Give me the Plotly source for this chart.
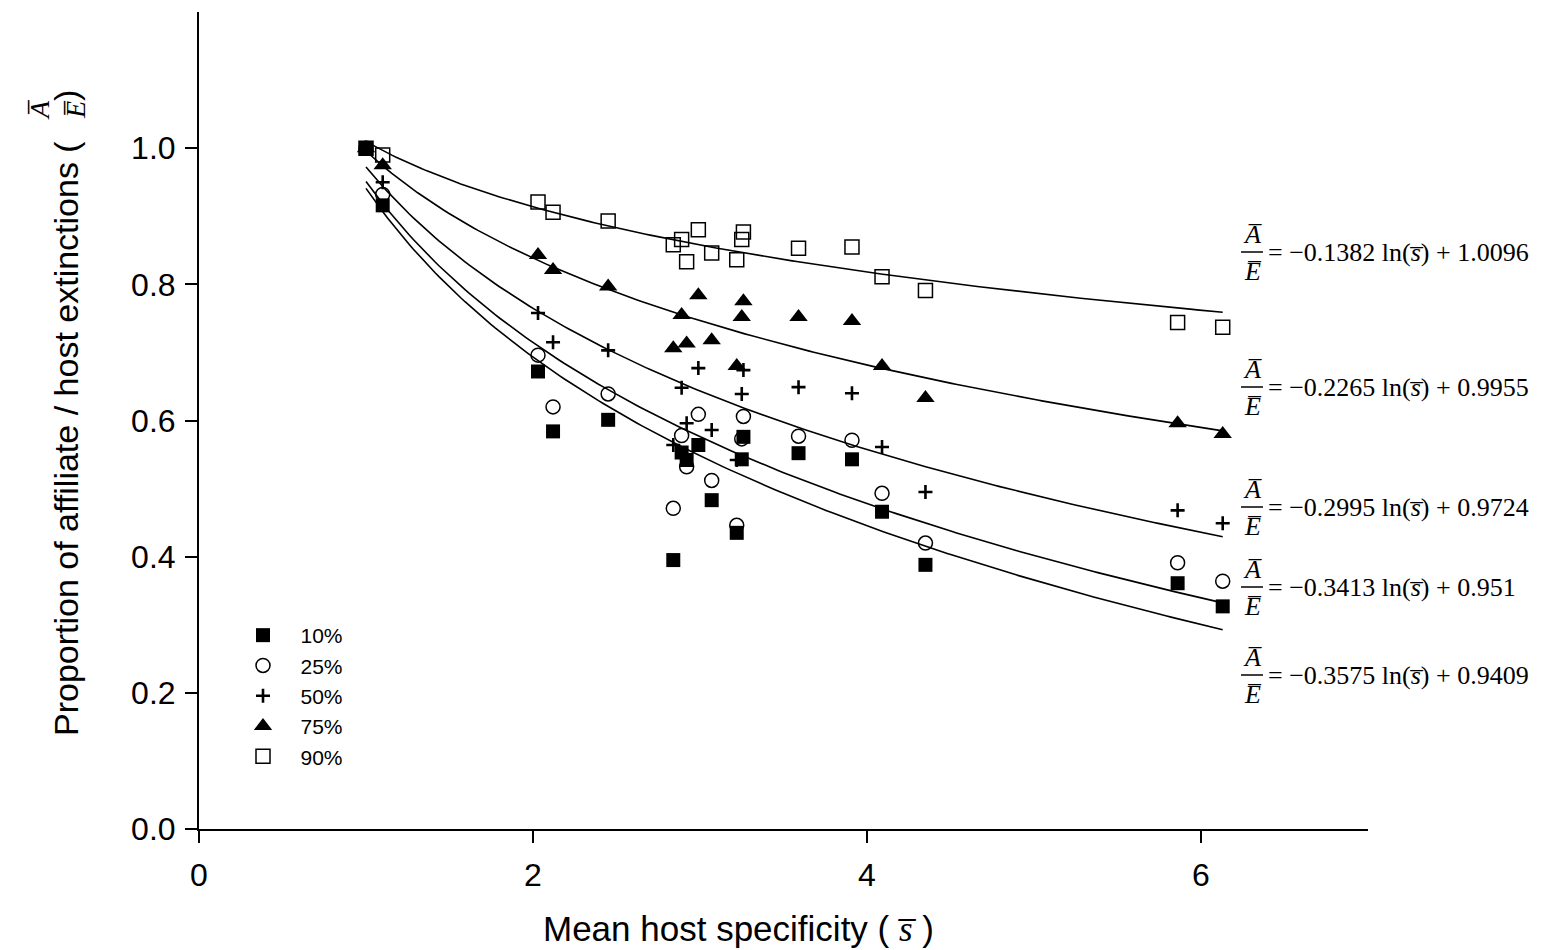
import numpy as np
import plotly.graph_objects as go

# ---------------- data ----------------
host_s = [1.00, 1.10, 2.03, 2.12, 2.45, 2.84, 2.89, 2.92, 2.99, 3.07, 3.22, 3.25, 3.26,
          3.59, 3.91, 4.09, 4.35, 5.86, 6.13]

p10 = [1.0, 0.916, 0.672, 0.584, 0.601, 0.395, 0.553, 0.542, 0.564, 0.483, 0.435, 0.543, 0.576,
       0.552, 0.543, 0.466, 0.388, 0.361, 0.327]
p25 = [1.0, 0.932, 0.696, 0.620, 0.639, 0.471, 0.578, 0.532, 0.609, 0.512, 0.446, 0.573, 0.606,
       0.577, 0.571, 0.493, 0.420, 0.391, 0.364]
p50 = [1.0, 0.950, 0.758, 0.715, 0.703, 0.564, 0.648, 0.596, 0.677, 0.586, 0.542, 0.639, 0.674,
       0.649, 0.640, 0.561, 0.495, 0.468, 0.449]
p75 = [1.0, 0.975, 0.843, 0.821, 0.797, 0.706, 0.755, 0.713, 0.784, 0.718, 0.680, 0.752, 0.775,
       0.752, 0.746, 0.680, 0.633, 0.596, 0.580]
p90 = [1.0, 0.990, 0.921, 0.906, 0.893, 0.858, 0.866, 0.833, 0.880, 0.846, 0.836, 0.866, 0.877,
       0.853, 0.855, 0.811, 0.791, 0.744, 0.737]

series_names = ["10%", "25%", "50%", "75%", "90%"]
fit_slope = [-0.3575, -0.3413, -0.2995, -0.2265, -0.1382]
fit_intercept = [0.9409, 0.951, 0.9724, 0.9955, 1.0096]

x_ticks = [0, 2, 4, 6]
y_ticks = [0.0, 0.2, 0.4, 0.6, 0.8, 1.0]

# ---------------- styling ----------------
W, H = 1568, 950
ML, MR, MT, MB = 199, 200, 12, 121
PW, PH = W - ML - MR, H - MT - MB

def px2paper_x(px):
    return (px - ML) / PW

def px2paper_y(py):
    return (H - MB - py) / PH

SANS = "Liberation Sans, Arial, sans-serif"
SERIF = "Liberation Serif, Times New Roman, serif"

marker_styles = [
    dict(symbol="square", size=14, color="black"),
    dict(symbol="circle-open", size=14, color="black", line=dict(width=1.5, color="black")),
    dict(symbol="cross-thin", size=10, color="black", line=dict(width=2.6, color="black")),
    dict(symbol="triangle-up", size=16, color="black"),
    dict(symbol="square-open", size=14, color="black", line=dict(width=1.5, color="black")),
]

fig = go.Figure()

# fitted log curves (from the printed regression coefficients)
xs = np.linspace(min(host_s), max(host_s), 200)
for b, a in zip(fit_slope, fit_intercept):
    fig.add_trace(go.Scatter(x=xs, y=b * np.log(xs) + a, mode="lines",
                             line=dict(color="black", width=1.6),
                             showlegend=False, hoverinfo="skip"))

for name, ys, ms in zip(series_names, [p10, p25, p50, p75, p90], marker_styles):
    fig.add_trace(go.Scatter(x=host_s, y=ys, mode="markers", name="\u00a0\u00a0\u00a0" + name,
                             marker=ms, cliponaxis=False))

annotations = []
shapes = []

# equation labels
eq_y_px = [675, 587, 507, 387, 252]
EQ_FONT = 26
for b, a, ypx in zip(fit_slope, fit_intercept, eq_y_px):
    yc = px2paper_y(ypx)
    annotations.append(dict(xref="paper", yref="paper", x=px2paper_x(1252), y=px2paper_y(ypx - 18),
                            text="<i>A\u0305</i>", showarrow=False, xanchor="center", yanchor="middle",
                            font=dict(family=SERIF, size=EQ_FONT, color="black")))
    annotations.append(dict(xref="paper", yref="paper", x=px2paper_x(1252), y=px2paper_y(ypx + 19),
                            text="<i>E\u0305</i>", showarrow=False, xanchor="center", yanchor="middle",
                            font=dict(family=SERIF, size=EQ_FONT, color="black")))
    shapes.append(dict(type="line", xref="paper", yref="paper",
                       x0=px2paper_x(1241), x1=px2paper_x(1263), y0=yc, y1=yc,
                       line=dict(color="black", width=1.5)))
    txt = "= \u2212%s ln(<i>s\u0305</i>) + %s" % (repr(abs(b)), repr(a))
    annotations.append(dict(xref="paper", yref="paper", x=px2paper_x(1266), y=yc,
                            text=txt, showarrow=False, xanchor="left", yanchor="middle",
                            font=dict(family=SERIF, size=EQ_FONT, color="black")))

# y-axis title
annotations.append(dict(xref="paper", yref="paper", x=px2paper_x(66), y=px2paper_y(439),
                        text="Proportion of affiliate / host extinctions (", textangle=-90,
                        showarrow=False, xanchor="center", yanchor="middle",
                        font=dict(family=SANS, size=34, color="black")))
annotations.append(dict(xref="paper", yref="paper", x=px2paper_x(66), y=px2paper_y(96),
                        text=")", textangle=-90,
                        showarrow=False, xanchor="center", yanchor="middle",
                        font=dict(family=SANS, size=34, color="black")))
annotations.append(dict(xref="paper", yref="paper", x=px2paper_x(57), y=px2paper_y(110),
                        text="<i>A\u0305</i><br><i>E\u0305</i>", textangle=-90,
                        showarrow=False, xanchor="center", yanchor="middle",
                        font=dict(family=SERIF, size=28, color="black")))

# x-axis title
annotations.append(dict(xref="paper", yref="paper", x=px2paper_x(738), y=px2paper_y(929),
                        text="Mean host specificity ( <span style='font-family:Liberation Serif'><i>s\u0305</i></span> )",
                        showarrow=False, xanchor="center", yanchor="middle",
                        font=dict(family=SANS, size=35, color="black")))

fig.update_layout(
    width=W, height=H,
    margin=dict(l=ML, r=MR, t=MT, b=MB),
    paper_bgcolor="white", plot_bgcolor="white",
    showlegend=True,
    legend=dict(x=px2paper_x(243), y=px2paper_y(615), xanchor="left", yanchor="top",
                bgcolor="rgba(0,0,0,0)", font=dict(family=SANS, size=21, color="black"),
                tracegroupgap=0),
    annotations=annotations,
    shapes=shapes,
)

fig.update_xaxes(range=[0, 7], tickvals=x_ticks, ticktext=[str(t) for t in x_ticks],
                 showgrid=False, zeroline=False, showline=True, linecolor="black", linewidth=2,
                 ticks="outside", ticklen=12, tickwidth=2, tickcolor="black",
                 tickfont=dict(family=SANS, size=32, color="black"), ticklabelstandoff=5)
fig.update_yaxes(range=[0, 1.2], tickvals=y_ticks, ticktext=["%.1f" % t for t in y_ticks],
                 showgrid=False, zeroline=False, showline=True, linecolor="black", linewidth=2,
                 ticks="outside", ticklen=12, tickwidth=2, tickcolor="black",
                 tickfont=dict(family=SANS, size=32, color="black"), ticklabelstandoff=3)

fig.write_html("out.html", config={"displayModeBar": False},
               post_script="document.body.style.margin='0';")
